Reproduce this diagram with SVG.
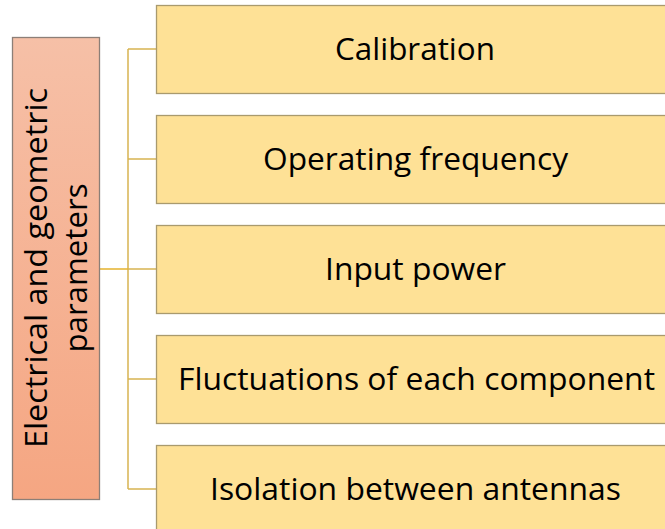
<svg xmlns="http://www.w3.org/2000/svg" width="665" height="529" viewBox="0 0 665 529">
<defs>
<linearGradient id="lg" x1="0" y1="0" x2="0" y2="1">
<stop offset="0" stop-color="#F6C0A7"/>
<stop offset="1" stop-color="#F5A682"/>
</linearGradient>
<style>
.box{fill:#FEE196;stroke:#A99A6E;stroke-width:1.3}
.t{font-family:"Open Sans","Noto Sans","Liberation Sans",sans-serif;font-size:31px;fill:#000;text-anchor:middle}
.c{fill:none;stroke:#D7B452;stroke-width:1.5}
</style>
</defs>
<rect width="665" height="529" fill="#fff"/>
<g id="connectors">
<path class="c" d="M128 49V489M128 49H156.5M128 159H156.5M128 379H156.5M128 489H156.5M128 269H156.5"/>
<path d="M99.5 269H128" fill="none" stroke="#E4B22C" stroke-width="1.5"/>
</g>
<g id="root">
<rect x="12.5" y="37.5" width="87" height="462" fill="url(#lg)" stroke="#8C7F77" stroke-width="1.3"/>
<text class="t" transform="translate(47,268) rotate(-90)" x="0" y="0" textLength="360" lengthAdjust="spacingAndGlyphs">Electrical and geometric</text>
<text class="t" transform="translate(87,268) rotate(-90)" x="0" y="0" textLength="169" lengthAdjust="spacingAndGlyphs">parameters</text>
</g>
<g id="n1">
<rect class="box" x="156.5" y="5.5" width="530" height="88"/>
<text class="t" x="415" y="60" textLength="160" lengthAdjust="spacingAndGlyphs">Calibration</text>
</g>
<g id="n2">
<rect class="box" x="156.5" y="115.5" width="530" height="88"/>
<text class="t" x="415.5" y="170" textLength="305" lengthAdjust="spacingAndGlyphs">Operating frequency</text>
</g>
<g id="n3">
<rect class="box" x="156.5" y="225.5" width="530" height="88"/>
<text class="t" x="415.5" y="280" textLength="181" lengthAdjust="spacingAndGlyphs">Input power</text>
</g>
<g id="n4">
<rect class="box" x="156.5" y="335.5" width="530" height="88"/>
<text class="t" x="416.5" y="390" textLength="477" lengthAdjust="spacingAndGlyphs">Fluctuations of each component</text>
</g>
<g id="n5">
<rect class="box" x="156.5" y="445.5" width="530" height="88"/>
<text class="t" x="415.5" y="500" textLength="411" lengthAdjust="spacingAndGlyphs">Isolation between antennas</text>
</g>
</svg>
